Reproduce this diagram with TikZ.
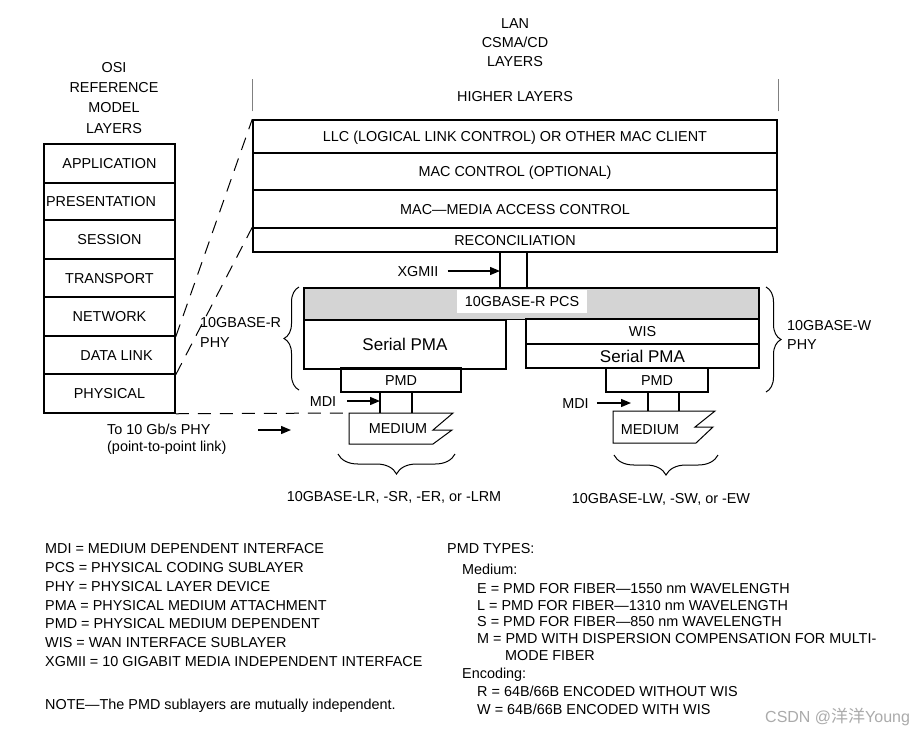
\documentclass[tikz,border=0pt]{standalone}
\usepackage{fontspec}
\setmainfont{Liberation Sans}
\newfontfamily\cjk{Noto Sans CJK SC}
\usetikzlibrary{arrows.meta,decorations.pathreplacing}
\begin{document}
\begin{tikzpicture}[x=1pt,y=-1pt,
  every node/.style={font=\fontsize{14.4}{17}\selectfont, inner sep=0pt, text height=10.3pt, text depth=0pt},
  box/.style={draw, line width=1.5pt},
  big/.style={font=\fontsize{17}{20}\selectfont, text height=12.2pt},
  lbl/.style={anchor=west},
  arr/.style={line width=1.3pt, -{Triangle[length=10pt,width=8pt]}},
  dsh/.style={line width=1pt, dash pattern=on 13pt off 9pt},
  thinline/.style={line width=1pt},
  brc/.style={line width=1pt, decorate, decoration={brace, amplitude=#1}}
]
\useasboundingbox (0,0) rectangle (917,732);
\fill[white] (0,0) rectangle (917,732);

% ---------- headers (node position = last line)
\node[align=center, font=\fontsize{14.4}{19}\selectfont] (lanhdr) at (515,61) {LAN\\CSMA/CD\\LAYERS};
\node[align=center, font=\fontsize{14.4}{20.3}\selectfont] (osihdr) at (114,128) {OSI\\REFERENCE\\MODEL\\LAYERS};

% ---------- OSI stack
\node[box, minimum width=131pt, minimum height=39pt] (app) at (109.5,163.5) {APPLICATION};
\node[box, minimum width=131pt, minimum height=37pt] (pres) at (109.5,201.5) {PRESENTATION\hspace*{17pt}};
\node[box, minimum width=131pt, minimum height=39pt] (sess) at (109.5,239.5) {SESSION};
\node[box, minimum width=131pt, minimum height=38pt] (trans) at (109.5,278) {TRANSPORT};
\node[box, minimum width=131pt, minimum height=39pt] (net) at (109.5,316.5) {NETWORK};
\node[box, minimum width=131pt, minimum height=38pt] (dl) at (109.5,355) {\hspace*{14pt}DATA LINK};
\node[box, minimum width=131pt, minimum height=39pt] (phy) at (109.5,393.5) {PHYSICAL};

% ---------- LAN stack
\node (higher) at (515,96) {HIGHER LAYERS};
\node[box, minimum width=524pt, minimum height=33pt] (llc) at (515,136.5) {LLC (LOGICAL LINK CONTROL) OR OTHER MAC CLIENT};
\node[box, minimum width=524pt, minimum height=37pt] (macc) at (515,171.5) {MAC CONTROL (OPTIONAL)};
\node[box, minimum width=524pt, minimum height=38pt] (mac) at (515,209) {MAC\textemdash MEDIA ACCESS CONTROL};
\node[box, minimum width=524pt, minimum height=24pt] (recon) at (515,240) {RECONCILIATION};
\draw[gray, line width=0.5pt] (llc.north west) ++(0,-8) -- ++(0,-32);
\draw[gray, line width=0.5pt] (llc.north east) ++(0,-8) -- ++(0,-32);

% ---------- PCS and below
\node[box, fill=black!17, minimum width=455pt, minimum height=31.5pt] (pcs) at (531.5,303.5) {};
\node[fill=white, minimum width=130pt, minimum height=23pt] (pcslbl) at (522,301.5) {10GBASE-R PCS};
\coordinate (xg1) at (500,0);
\coordinate (xg2) at (527,0);
\draw[line width=1.5pt] (recon.south -| xg1) -- (pcs.north -| xg1);
\draw[line width=1.5pt] (recon.south -| xg2) -- (pcs.north -| xg2);
\node (xgmii) at (418,271) {XGMII};
\draw[arr] ([xshift=9pt]xgmii.east) -- (xg1 |- xgmii.east);

\node[box, big, minimum width=202pt, minimum height=49pt] (pmaL) at (405,344.5) {Serial PMA};
\node[box, minimum width=233pt, minimum height=25pt] (wis) at (642.5,331.5) {WIS};
\node[box, big, minimum width=233pt, minimum height=24pt] (pmaR) at (642.5,356) {Serial PMA};
\node[box, minimum width=120pt, minimum height=24pt] (pmdL) at (401,380) {PMD};
\node[box, minimum width=102pt, minimum height=24pt] (pmdR) at (657,380) {PMD};

% ---------- media
\coordinate (medL) at (349,413);
\coordinate (medR) at (613,411);
\draw[thinline] (medL) -- (453,413) -- (433,430) -- (452,430) -- (433,444) -- (349,444) -- cycle;
\draw[thinline] (medR) -- (715,411) -- (695,427) -- (713,427) -- (696,443) -- (613,443) -- cycle;
\node (mediumL) at (398,428) {MEDIUM};
\node (mediumR) at (650,429) {MEDIUM};
\coordinate (vL1) at (380,413);
\coordinate (vL2) at (412,413);
\coordinate (vR1) at (648,411);
\coordinate (vR2) at (679,411);
\draw[line width=1.5pt] (vL1 |- pmdL.south) -- (vL1);
\draw[line width=1.5pt] (vL2 |- pmdL.south) -- (vL2);
\draw[line width=1.5pt] (vR1 |- pmdR.south) -- (vR1);
\draw[line width=1.5pt] (vR2 |- pmdR.south) -- (vR2);

\node (mdiL) at (323,401) {MDI};
\draw[arr] ([xshift=11pt]mdiL.east) -- (vL1 |- mdiL.east);
\node (mdiR) at (575.5,403) {MDI};
\coordinate (mdiRend) at (631,403);
\draw[arr] ([xshift=8pt]mdiR.east) -- (mdiRend);

% ---------- dashed mapping lines
\draw[dsh] (net.south east) -- (llc.north west);
\draw[dsh] (dl.south east) -- (recon.north west);
\draw[dsh] (phy.south east) -- (medL);

% ---------- PHY labels and braces
\node[lbl, align=left, font=\fontsize{14.4}{20}\selectfont] (phyR) at (200,342) {10GBASE-R\\PHY};
\node[lbl, align=left, font=\fontsize{14.4}{19}\selectfont] (phyW) at (787,344) {10GBASE-W\\PHY};
\draw[brc=15pt] (299,390) -- (299,287);
\draw[brc=15pt] (766,287) -- (766,392);
\draw[brc=20pt] (455,454) -- (338,454);
\draw[brc=20pt] (718,455) -- (614,455);
\node (lrlbl) at (394,496) {10GBASE-LR, -SR, -ER, or -LRM};
\node (lwlbl) at (661,498) {10GBASE-LW, -SW, or -EW};

% ---------- to PHY
\node[lbl, align=left, font=\fontsize{14.4}{17}\selectfont] (tophy) at (107,446) {To 10 Gb/s PHY\\(point-to-point link)};
\coordinate (tophyend) at (291,430);
\draw[arr] (258,430) -- (tophyend);

% ---------- legend
\node[lbl] (l1) at (45,548) {MDI = MEDIUM DEPENDENT INTERFACE};
\node[lbl] (l2) at (45,567) {PCS = PHYSICAL CODING SUBLAYER};
\node[lbl] (l3) at (45,586) {PHY = PHYSICAL LAYER DEVICE};
\node[lbl] (l4) at (45,605) {PMA = PHYSICAL MEDIUM ATTACHMENT};
\node[lbl] (l5) at (45,623) {PMD = PHYSICAL MEDIUM DEPENDENT};
\node[lbl] (l6) at (45,642) {WIS = WAN INTERFACE SUBLAYER};
\node[lbl] (l7) at (45,661) {XGMII = 10 GIGABIT MEDIA INDEPENDENT INTERFACE};
\node[lbl] (l8) at (45,704) {NOTE\textemdash The PMD sublayers are mutually independent.};

\node[lbl] (r1) at (447,548) {PMD TYPES:};
\node[lbl] (r2) at (462,569) {Medium:};
\node[lbl] (r3) at (477,588) {E = PMD FOR FIBER\textemdash 1550 nm WAVELENGTH};
\node[lbl] (r4) at (477,605) {L = PMD FOR FIBER\textemdash 1310 nm WAVELENGTH};
\node[lbl] (r5) at (477,621) {S = PMD FOR FIBER\textemdash 850 nm WAVELENGTH};
\node[lbl] (r6) at (477,638) {M = PMD WITH DISPERSION COMPENSATION FOR MULTI-};
\node[lbl] (r7) at (505,655) {MODE FIBER};
\node[lbl] (r8) at (462,673) {Encoding:};
\node[lbl] (r9) at (477,691) {R = 64B/66B ENCODED WITHOUT WIS};
\node[lbl] (r10) at (477,709) {W = 64B/66B ENCODED WITH WIS};

\node[lbl, text=black!33, font=\fontsize{16}{18}\selectfont, text height=11.5pt] (wm) at (765,717) {CSDN @{\cjk\fontsize{17}{18}\selectfont 洋洋}Young};
\end{tikzpicture}
\end{document}
